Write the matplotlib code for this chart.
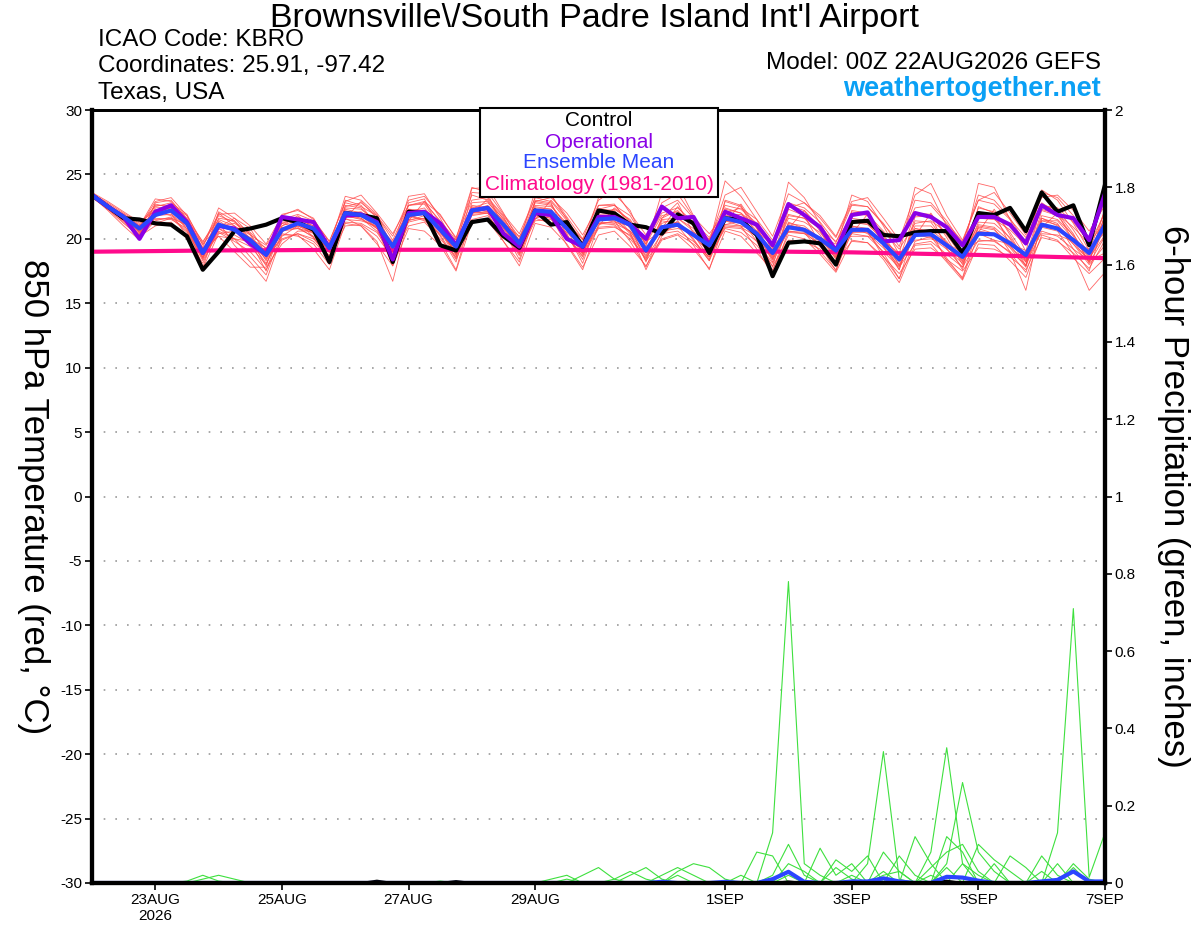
import numpy as np
import matplotlib
matplotlib.use("Agg")
import matplotlib.pyplot as plt
from matplotlib.patches import Rectangle

plt.rcParams['font.family'] = ['Liberation Sans', 'DejaVu Sans']
plt.rcParams['axes.unicode_minus'] = False

# 6-hourly steps from 00Z 22AUG2026 (step 0) to 00Z 7SEP (step 64)
tick_steps = [4, 12, 20, 28, 40, 48, 56, 64]
tick_labels = ['23AUG\n2026', '25AUG', '27AUG', '29AUG', '1SEP', '3SEP', '5SEP', '7SEP']

control_t = [23.4, 22.5, 21.6, 21.5, 21.2, 21.1, 20.2, 17.6, 19.0, 20.6, 20.8, 21.1,
             21.6, 21.3, 20.7, 18.2, 22.0, 21.85, 21.6, 18.2, 22.1, 22.0, 19.5, 19.1,
             21.3, 21.5, 20.2, 19.3, 22.2, 21.1, 21.3, 19.4, 22.2, 21.98, 21.1, 20.9,
             20.4, 21.9, 21.2, 18.9, 21.6, 21.5, 20.3, 17.1, 19.7, 19.8, 19.65, 18.0,
             21.3, 21.4, 20.3, 20.2, 20.5, 20.6, 20.6, 18.9, 22.0, 21.85, 22.4, 20.6,
             23.6, 22.1, 22.6, 19.5, 24.2]
oper_t = [23.4, 22.5, 21.7, 20.0, 22.1, 22.6, 21.3, 18.9, 21.0, 20.8, 19.6, 18.8,
          21.7, 21.5, 21.3, 19.3, 21.8, 21.9, 21.3, 18.4, 22.0, 22.1, 21.2, 19.5,
          22.2, 22.4, 20.4, 19.4, 22.0, 21.85, 20.0, 19.4, 21.7, 21.7, 21.1, 20.0,
          22.5, 21.6, 21.7, 19.5, 22.1, 21.6, 21.1, 19.5, 22.7, 21.85, 20.9, 19.1,
          21.85, 22.05, 19.8, 19.9, 22.0, 21.7, 20.9, 19.5, 21.7, 21.7, 21.1, 19.65,
          22.6, 21.85, 21.6, 19.9, 23.5]
mean_t = [23.4, 22.5, 21.7, 20.8, 21.85, 22.2, 21.2, 18.9, 21.1, 20.7, 19.9, 18.75,
          20.7, 21.2, 20.8, 19.3, 22.0, 21.85, 21.2, 19.4, 21.85, 22.0, 20.7, 19.4,
          22.2, 22.4, 21.1, 19.65, 22.2, 22.1, 20.8, 19.4, 21.5, 21.6, 21.1, 19.1,
          20.9, 21.1, 20.3, 19.5, 21.6, 21.3, 20.4, 18.9, 20.9, 20.7, 20.0, 19.1,
          20.7, 20.7, 19.65, 18.4, 20.3, 20.35, 19.5, 18.6, 20.4, 20.35, 19.65, 18.75,
          21.1, 20.8, 19.9, 18.9, 21.1]
# daily climatology, 00Z each day
clim_t = [19.0, 19.05, 19.1, 19.12, 19.15, 19.15, 19.15, 19.15, 19.12, 19.1,
          19.05, 19.0, 18.95, 18.85, 18.75, 18.62, 18.5]

members_t = [
    [23.5, 22.8, 22.0, 21.2, 22.5, 22.8, 21.9, 19.5, 21.8, 21.3, 20.5, 19.2, 21.5, 21.9, 21.4, 19.8,
     22.8, 22.5, 21.8, 19.9, 22.6, 22.8, 21.4, 19.9, 23.0, 23.2, 21.8, 20.1, 23.2, 22.9, 21.4, 19.9,
     22.3, 22.6, 21.8, 19.8, 22.0, 22.4, 21.3, 20.1, 22.6, 22.3, 21.2, 19.5, 21.8, 21.6, 20.8, 19.8,
     21.8, 21.9, 20.6, 19.2, 21.2, 21.4, 20.5, 19.4, 21.6, 21.5, 20.7, 19.5, 22.3, 21.9, 20.9, 19.6, 22.0],
    [23.3, 22.3, 21.3, 20.1, 21.4, 21.7, 20.6, 18.3, 20.5, 19.8, 19.0, 17.6, 19.9, 20.4, 20.0, 18.7,
     21.3, 21.2, 20.5, 18.7, 21.0, 21.3, 20.0, 18.6, 21.5, 21.8, 20.3, 18.9, 21.4, 21.5, 20.1, 18.7,
     20.8, 20.9, 20.3, 18.3, 20.0, 20.4, 19.6, 18.6, 20.8, 20.5, 19.5, 17.9, 19.9, 19.8, 19.2, 18.2,
     19.8, 19.7, 18.6, 17.3, 19.2, 19.3, 18.4, 17.5, 19.3, 19.2, 18.6, 17.6, 20.1, 19.8, 18.9, 17.7, 19.9],
    [23.6, 22.6, 21.5, 20.0, 22.8, 23.0, 21.5, 18.5, 22.0, 21.0, 19.8, 17.5, 21.0, 21.8, 20.8, 18.4,
     23.0, 22.6, 21.0, 18.0, 22.8, 23.1, 20.6, 18.5, 23.6, 23.5, 20.8, 18.8, 23.0, 22.8, 20.2, 18.6,
     22.6, 22.7, 21.0, 18.2, 21.6, 22.8, 20.4, 18.4, 23.0, 22.6, 20.2, 17.8, 22.3, 21.8, 19.6, 17.9,
     22.2, 22.0, 19.4, 17.6, 21.7, 21.8, 19.2, 17.8, 22.5, 22.0, 19.5, 17.9, 22.8, 22.0, 19.8, 18.2, 22.4],
    [23.4, 22.5, 21.8, 21.0, 21.9, 22.1, 21.4, 19.6, 21.0, 20.6, 20.0, 19.3, 20.6, 20.8, 20.5, 19.7,
     21.5, 21.4, 21.0, 19.8, 21.5, 21.6, 20.8, 19.9, 21.8, 22.0, 21.2, 20.2, 21.8, 21.6, 21.0, 20.0,
     21.2, 21.3, 21.0, 19.8, 20.6, 20.8, 20.5, 20.0, 21.1, 21.0, 20.6, 19.5, 20.5, 20.4, 20.1, 19.6,
     20.2, 20.2, 19.8, 18.9, 19.9, 20.0, 19.6, 19.0, 19.8, 19.9, 19.6, 19.1, 20.4, 20.3, 19.8, 19.2, 20.5],
    [23.5, 22.4, 21.4, 20.3, 22.0, 22.3, 21.0, 17.8, 21.3, 19.5, 18.2, 16.7, 20.2, 21.0, 20.4, 18.4,
     22.2, 21.8, 20.8, 17.9, 21.4, 21.8, 20.2, 18.2, 22.5, 22.2, 20.6, 18.4, 22.5, 22.3, 20.4, 18.1,
     21.6, 21.9, 20.5, 17.6, 20.2, 21.4, 19.9, 18.3, 22.1, 21.5, 19.8, 17.4, 21.3, 20.8, 19.5, 17.5,
     21.0, 20.6, 18.6, 16.9, 20.8, 20.6, 18.3, 17.0, 21.0, 20.8, 19.0, 16.0, 21.6, 21.2, 19.2, 17.5, 21.6],
    [23.2, 22.4, 21.6, 20.7, 22.0, 22.4, 21.3, 19.2, 21.2, 20.8, 20.1, 19.0, 21.0, 21.5, 21.0, 19.5,
     22.3, 22.0, 21.5, 19.6, 22.1, 22.4, 21.0, 19.6, 22.4, 22.8, 21.6, 19.8, 22.6, 22.5, 21.2, 19.7,
     22.0, 22.3, 21.5, 19.6, 21.8, 22.1, 21.2, 19.9, 22.3, 22.0, 21.0, 19.3, 22.8, 22.4, 21.3, 19.7,
     22.6, 22.5, 21.2, 19.4, 23.0, 22.8, 21.4, 19.6, 23.4, 23.0, 21.6, 19.6, 23.6, 23.2, 21.8, 19.8, 23.0],
    [23.3, 22.2, 21.0, 19.9, 22.3, 22.0, 20.2, 18.1, 20.8, 20.0, 18.6, 17.2, 20.4, 20.2, 19.6, 18.0,
     21.6, 21.0, 19.8, 16.7, 21.6, 22.0, 19.8, 17.6, 21.9, 22.0, 19.8, 18.2, 21.9, 21.7, 19.5, 17.6,
     21.1, 21.4, 19.8, 17.8, 20.6, 21.0, 19.5, 17.6, 21.4, 21.0, 19.2, 17.2, 20.6, 20.5, 19.0, 17.6,
     20.5, 20.5, 18.9, 16.9, 19.8, 20.2, 18.5, 16.9, 20.4, 19.9, 18.9, 17.4, 20.9, 20.6, 18.8, 16.0, 17.4],
    [23.4, 22.7, 21.9, 21.0, 23.1, 22.9, 21.6, 19.3, 22.4, 21.6, 20.8, 18.8, 21.9, 22.2, 21.6, 19.4,
     23.3, 23.0, 21.9, 19.3, 23.3, 23.5, 21.6, 19.5, 23.9, 24.0, 22.0, 19.8, 23.7, 23.4, 21.5, 19.4,
     23.2, 23.5, 22.2, 19.4, 23.6, 24.2, 21.8, 19.6, 24.5, 23.3, 21.5, 19.0, 24.4, 23.2, 21.2, 19.2,
     23.4, 22.9, 21.0, 18.8, 24.0, 23.5, 21.0, 18.8, 24.3, 24.0, 21.5, 19.0, 23.8, 23.0, 21.2, 19.1, 22.2],
    [23.5, 22.5, 21.5, 20.6, 21.6, 21.5, 20.8, 18.6, 20.6, 20.0, 19.4, 18.0, 20.8, 21.1, 20.5, 19.0,
     21.8, 21.5, 20.9, 19.0, 21.3, 21.6, 20.5, 19.0, 22.0, 22.3, 21.0, 19.3, 22.0, 22.2, 20.8, 19.0,
     21.3, 21.2, 20.6, 18.7, 21.0, 21.0, 20.2, 19.0, 21.4, 21.2, 20.2, 18.4, 20.6, 20.4, 19.6, 18.6,
     20.9, 20.4, 19.3, 17.9, 20.3, 20.1, 19.2, 18.1, 20.6, 20.4, 19.4, 18.2, 21.2, 20.8, 19.6, 18.4, 20.8],
    [23.3, 22.6, 21.8, 20.9, 22.6, 22.6, 21.5, 19.0, 20.2, 19.0, 17.8, 17.8, 19.6, 20.6, 20.6, 19.1,
     22.4, 22.3, 21.3, 19.4, 22.0, 22.0, 20.9, 18.9, 22.2, 22.6, 21.4, 19.6, 22.8, 22.6, 21.0, 19.3,
     21.8, 21.9, 21.0, 18.9, 21.2, 21.6, 20.8, 19.4, 21.8, 21.9, 20.9, 18.6, 21.6, 21.3, 20.5, 18.9,
     21.6, 21.4, 20.0, 18.2, 21.0, 21.0, 19.8, 18.2, 21.3, 21.2, 20.1, 18.3, 21.8, 21.5, 20.3, 18.6, 21.4],
    [23.4, 22.6, 21.7, 20.6, 22.4, 22.5, 21.2, 18.8, 21.6, 21.4, 20.0, 17.9, 21.3, 21.4, 20.8, 19.0,
     22.0, 22.1, 21.0, 18.6, 22.3, 22.2, 20.8, 18.7, 22.6, 22.4, 21.0, 19.2, 22.4, 22.3, 20.6, 18.8,
     21.9, 22.0, 20.9, 19.0, 21.5, 21.6, 20.6, 18.8, 22.4, 22.0, 20.6, 18.2, 21.9, 21.6, 20.3, 18.4,
     21.3, 21.2, 19.8, 17.6, 21.4, 21.3, 19.6, 17.6, 22.0, 21.6, 20.0, 17.9, 22.2, 21.8, 20.2, 18.2, 21.9],
    [23.2, 22.3, 21.5, 20.4, 21.8, 21.9, 21.0, 18.9, 21.4, 20.6, 19.8, 18.4, 20.9, 20.8, 20.2, 19.2,
     21.7, 21.6, 20.6, 19.1, 21.8, 21.4, 20.4, 19.2, 22.1, 22.0, 20.8, 19.4, 21.6, 21.9, 20.8, 19.2,
     21.5, 21.4, 20.6, 19.1, 20.9, 21.0, 20.4, 19.3, 21.0, 20.9, 20.2, 18.8, 21.0, 20.8, 19.9, 18.8,
     20.6, 20.6, 19.5, 18.3, 20.8, 20.5, 19.4, 18.4, 20.9, 20.7, 19.6, 18.6, 21.4, 21.1, 19.8, 18.8, 21.0],
    [23.6, 22.9, 22.1, 21.3, 22.2, 22.4, 21.5, 19.8, 21.5, 21.0, 20.3, 19.5, 21.2, 21.6, 21.0, 19.1,
     22.5, 22.8, 21.8, 20.2, 23.0, 23.3, 21.8, 20.1, 23.4, 23.0, 21.5, 19.9, 22.9, 23.2, 22.0, 20.3,
     22.6, 22.6, 21.3, 19.6, 22.8, 23.5, 21.7, 20.4, 22.0, 22.4, 21.5, 19.9, 22.4, 22.8, 21.6, 20.1,
     22.7, 22.5, 21.1, 19.8, 22.4, 22.6, 21.2, 19.8, 23.0, 22.7, 21.5, 20.1, 22.6, 22.4, 21.3, 19.7, 21.3],
    [23.4, 22.4, 21.6, 20.8, 21.2, 21.6, 20.5, 18.5, 20.8, 20.3, 19.6, 18.6, 20.0, 20.4, 19.8, 18.5,
     21.0, 21.1, 20.2, 18.5, 21.8, 21.5, 20.3, 18.4, 21.2, 21.6, 20.5, 18.7, 21.8, 21.6, 20.0, 18.9,
     20.9, 21.0, 20.0, 18.5, 20.4, 20.6, 19.8, 18.6, 20.9, 20.8, 19.8, 18.1, 20.8, 20.6, 19.4, 18.2,
     20.4, 20.2, 19.0, 17.8, 19.6, 19.8, 18.8, 17.8, 19.9, 19.8, 19.0, 18.0, 20.6, 20.2, 19.2, 18.3, 18.9],
    [23.3, 22.6, 21.9, 20.5, 21.7, 22.6, 21.8, 19.0, 20.9, 21.6, 20.3, 18.3, 20.5, 21.7, 21.2, 19.4,
     21.6, 22.9, 21.6, 19.0, 21.4, 22.9, 21.3, 19.2, 21.9, 23.1, 21.7, 19.5, 21.5, 23.0, 21.6, 19.1,
     21.0, 22.4, 21.4, 18.9, 20.8, 22.5, 21.0, 19.2, 21.3, 22.7, 20.9, 18.5, 20.8, 22.2, 20.6, 18.7,
     20.4, 21.9, 20.2, 17.9, 20.2, 22.0, 20.1, 18.0, 20.5, 22.3, 20.3, 18.2, 20.9, 22.0, 20.4, 18.1, 20.2],
    [23.4, 22.3, 21.2, 20.2, 21.0, 21.3, 20.0, 17.7, 20.4, 20.6, 19.8, 18.1, 20.3, 20.3, 19.2, 17.6,
     21.2, 21.0, 19.6, 17.9, 20.8, 20.6, 19.5, 17.5, 21.3, 21.4, 19.8, 17.9, 21.2, 20.9, 19.6, 17.8,
     20.3, 20.6, 19.4, 17.9, 19.9, 20.3, 19.2, 17.7, 20.6, 20.2, 18.9, 17.6, 20.3, 20.0, 18.8, 17.4,
     19.9, 19.7, 18.4, 16.6, 19.5, 19.6, 18.2, 16.8, 19.6, 19.5, 18.3, 17.0, 20.3, 19.9, 18.5, 17.3, 18.5],
    [23.5, 22.7, 21.7, 20.9, 22.9, 23.2, 21.8, 19.7, 21.9, 22.0, 21.0, 19.6, 21.8, 22.3, 21.5, 19.8,
     22.9, 23.4, 22.0, 20.4, 22.6, 22.9, 21.9, 20.0, 24.0, 23.6, 21.9, 20.4, 23.2, 23.4, 21.7, 20.0,
     23.0, 23.8, 22.0, 20.3, 22.4, 23.0, 21.6, 19.8, 23.4, 24.0, 22.1, 20.2, 23.5, 22.8, 21.8, 20.2,
     22.9, 23.2, 21.6, 19.9, 23.4, 24.3, 21.8, 19.9, 23.0, 23.6, 22.0, 20.3, 23.2, 23.4, 22.2, 20.6, 22.6],
    [23.3, 22.4, 21.6, 20.5, 22.1, 21.8, 20.9, 18.4, 21.0, 21.2, 20.4, 18.5, 20.6, 21.0, 20.6, 18.9,
     22.1, 21.8, 20.9, 18.9, 21.7, 21.9, 20.7, 19.4, 22.3, 22.1, 20.9, 19.1, 22.2, 21.8, 20.3, 18.4,
     21.7, 21.6, 20.4, 18.6, 21.0, 21.3, 20.3, 18.9, 21.6, 21.6, 20.4, 18.7, 21.2, 21.0, 20.0, 18.5,
     21.0, 20.8, 19.6, 18.0, 20.6, 20.7, 19.7, 18.3, 20.8, 20.4, 19.3, 17.8, 21.4, 21.4, 20.0, 18.5, 20.3],
    [23.4, 22.5, 21.4, 20.3, 22.7, 22.4, 20.7, 18.6, 22.1, 21.4, 19.8, 18.6, 21.6, 21.4, 20.1, 18.3,
     22.6, 22.4, 21.2, 19.3, 22.6, 22.7, 20.9, 18.8, 22.8, 22.9, 21.3, 19.0, 22.9, 22.7, 20.9, 18.9,
     22.3, 22.2, 20.8, 18.9, 21.6, 22.2, 21.0, 18.7, 22.9, 22.5, 20.8, 18.4, 22.6, 22.2, 20.9, 18.6,
     22.1, 21.8, 20.3, 18.4, 22.0, 21.9, 20.3, 18.6, 22.4, 22.1, 20.5, 18.6, 22.6, 22.3, 20.7, 18.8, 21.7],
    [23.3, 22.5, 21.9, 21.1, 21.5, 21.6, 21.1, 19.3, 20.2, 20.0, 19.8, 18.9, 21.2, 20.9, 20.1, 18.6,
     21.9, 21.6, 20.8, 19.7, 22.3, 21.9, 20.6, 18.8, 22.0, 22.1, 21.2, 19.0, 21.6, 21.2, 20.5, 19.5,
     21.2, 21.1, 20.2, 18.4, 21.4, 21.2, 20.0, 18.3, 21.1, 21.4, 20.3, 19.2, 21.1, 20.8, 19.8, 18.0,
     21.3, 21.1, 20.0, 18.7, 20.5, 20.3, 19.3, 18.6, 21.1, 20.9, 19.8, 18.4, 21.6, 21.0, 19.6, 18.0, 19.5],
]

# 6-hour precipitation (inches): members given as {step: value}, zero elsewhere
members_p = [
    {43: 0.13, 44: 0.78, 45: 0.05, 46: 0.02, 50: 0.03, 53: 0.02},
    {49: 0.05, 50: 0.34, 51: 0.01, 54: 0.04},
    {53: 0.08, 54: 0.35, 55: 0.05, 56: 0.02, 60: 0.03},
    {54: 0.05, 55: 0.26, 56: 0.08, 57: 0.03},
    {61: 0.13, 62: 0.71, 63: 0.015, 64: 0.13},
    {33: 0.01, 34: 0.03, 35: 0.01, 37: 0.03, 38: 0.05, 39: 0.04, 40: 0.01, 46: 0.09, 47: 0.02,
     48: 0.05, 51: 0.07, 52: 0.02, 56: 0.1, 57: 0.06, 58: 0.03},
    {31: 0.02, 32: 0.04, 33: 0.01, 36: 0.02, 37: 0.04, 38: 0.02, 42: 0.08, 43: 0.07, 47: 0.06,
     48: 0.03, 49: 0.07, 52: 0.12, 53: 0.05, 58: 0.07, 59: 0.04, 61: 0.05},
    {7: 0.01, 8: 0.02, 9: 0.01, 22: 0.005, 29: 0.01, 30: 0.02, 34: 0.02, 35: 0.04, 36: 0.01,
     41: 0.02, 44: 0.05, 45: 0.03, 48: 0.02, 50: 0.08, 51: 0.03, 55: 0.05, 60: 0.07, 61: 0.02},
    {6: 0.005, 7: 0.02, 8: 0.005, 30: 0.01, 37: 0.02, 43: 0.02, 44: 0.1, 45: 0.02, 53: 0.04,
     54: 0.08, 55: 0.1, 56: 0.03, 62: 0.04},
    {44: 0.02, 47: 0.04, 48: 0.01, 50: 0.02, 51: 0.03, 54: 0.12, 55: 0.08, 57: 0.05, 62: 0.05, 63: 0.01},
]
control_p = {18: 0.006, 23: 0.005, 44: 0.004, 54: 0.006}
mean_p = {36: 0.003, 40: 0.003, 43: 0.01, 44: 0.029, 45: 0.003, 48: 0.004, 49: 0.004,
          50: 0.012, 51: 0.004, 54: 0.016, 55: 0.014, 56: 0.006, 60: 0.004, 61: 0.008,
          62: 0.03, 63: 0.004, 64: 0.004}

RED = '#ff4a4a'
GREEN = '#3ee03e'
PURPLE = '#8a00e6'
BLUE = '#2b45ff'
PINK = '#ff0a8c'


def expand(sparse, n):
    arr = np.zeros(n)
    for k, v in sparse.items():
        arr[k] = v
    return arr


def main():
    n = len(mean_t)
    steps = np.arange(n)

    fig = plt.figure(figsize=(12, 9.27), dpi=100)
    ax = fig.add_axes([92 / 1200, 44 / 927, 1013 / 1200, 773 / 927])
    ax2 = ax.twinx()

    # temperature
    for m in members_t:
        ax.plot(steps, m, color=RED, lw=0.6, alpha=0.85, zorder=2)
    ax.plot(np.arange(0, n, 4), clim_t, color=PINK, lw=3, zorder=3)
    ax.plot(steps, control_t, color='black', lw=3, zorder=4)
    ax.plot(steps, oper_t, color=PURPLE, lw=3, zorder=5)
    ax.plot(steps, mean_t, color=BLUE, lw=3, zorder=6)

    # precipitation
    for m in members_p:
        ax2.plot(steps, expand(m, n), color=GREEN, lw=0.8)
    ax2.plot(steps, expand(control_p, n), color='black', lw=1.5)
    ax2.plot(steps, expand(mean_p, n), color=BLUE, lw=3)

    ax.set_xlim(0, n - 1)
    ax.set_ylim(-30, 30)
    ax.set_yticks(np.arange(-30, 31, 5))
    ax2.set_ylim(0, 2)
    ax2.set_yticks(np.arange(0, 2.01, 0.2))
    ax2.set_yticklabels(['%g' % round(v, 1) for v in np.arange(0, 2.01, 0.2)])
    ax.set_xticks(tick_steps)
    ax.set_xticklabels(tick_labels, linespacing=1.25)

    ax.yaxis.grid(True, linestyle=(0, (1, 6)), color='#999999', lw=1.2)
    ax.set_axisbelow(True)

    for a in (ax, ax2):
        a.spines['left'].set_linewidth(3)
        a.spines['right'].set_linewidth(3)
        a.spines['bottom'].set_linewidth(3)
        a.spines['top'].set_linewidth(2)
        a.tick_params(direction='out', length=5, width=1.2, labelsize=11, pad=2)

    ax.set_ylabel('850 hPa Temperature (red, °C)', fontsize=25, rotation=270,
                  va='center')
    ax.yaxis.set_label_coords(-0.058, 0.5)
    ax2.set_ylabel('6-hour Precipitation (green, inches)', fontsize=25, rotation=270,
                   va='center')
    ax2.yaxis.set_label_coords(1.068, 0.5)

    # header texts
    fig.text(595 / 1200, 1 - 19 / 927, "Brownsville\\/South Padre Island Int'l Airport",
             fontsize=24.5, ha='center', va='center')
    fig.text(98 / 1200, 1 - 40 / 927, 'ICAO Code: KBRO', fontsize=17.5, va='center')
    fig.text(98 / 1200, 1 - 66 / 927, 'Coordinates: 25.91, -97.42', fontsize=17.5, va='center')
    fig.text(98 / 1200, 1 - 93 / 927, 'Texas, USA', fontsize=17.5, va='center')
    fig.text(1101 / 1200, 1 - 63 / 927, 'Model: 00Z 22AUG2026 GEFS', fontsize=17.5,
             ha='right', va='center')
    fig.text(1101 / 1200, 1 - 89 / 927, 'weathertogether.net', fontsize=19.5,
             fontweight='bold', color='#0aa0f5', ha='right', va='center')

    # legend box
    fig.patches.append(Rectangle((480 / 1200, 1 - 197 / 927), 238 / 1200, 89 / 927,
                                 transform=fig.transFigure, facecolor='white',
                                 edgecolor='black', lw=1.5, zorder=10))
    legend_items = [('Control', 'black', 121), ('Operational', PURPLE, 142),
                    ('Ensemble Mean', BLUE, 163), ('Climatology (1981-2010)', PINK, 185)]
    for label, color, ypx in legend_items:
        fig.text(599 / 1200, 1 - ypx / 927, label, color=color, fontsize=15,
                 ha='center', va='center', zorder=11)

    fig.savefig('out.png', dpi=100)
    plt.close(fig)


if __name__ == '__main__':
    main()
